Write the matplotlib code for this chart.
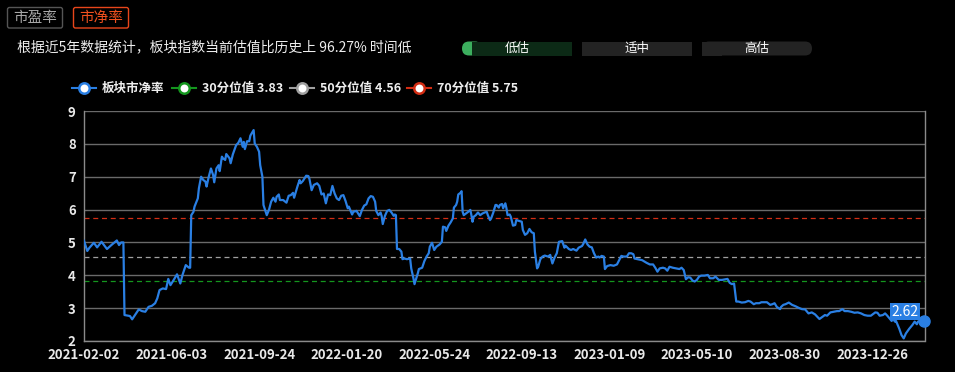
import numpy as np
import matplotlib
matplotlib.use('Agg')
import matplotlib.pyplot as plt
from matplotlib.patches import FancyBboxPatch, Rectangle
from matplotlib.lines import Line2D

plt.rcParams['font.family'] = ['Noto Sans CJK SC', 'DejaVu Sans']

# trading-day index of each reading, and the PB value
day_idx = [0, 3, 5, 9, 12, 16, 21, 25, 30, 32, 34, 36, 37, 42, 44, 47, 50, 53, 56, 59,
           62, 65, 67, 69, 72, 75, 77, 79, 82, 85, 88, 90, 93, 96, 97, 98, 100, 101, 104, 105,
           107, 109, 111, 112, 114, 116, 118, 119, 121, 123, 124, 126, 127, 129, 130, 133, 134, 136, 139, 141,
           143, 145, 146, 147, 149, 151, 152, 155, 156, 158, 160, 161, 163, 164, 165, 167, 169, 171, 173, 175,
           176, 178, 179, 182, 185, 187, 189, 191, 192, 194, 195, 197, 198, 200, 203, 205, 206, 208, 210, 213,
           215, 217, 219, 221, 223, 225, 227, 229, 231, 233, 235, 237, 239, 241, 242, 245, 246, 249, 252, 254,
           256, 258, 260, 262, 264, 266, 267, 269, 271, 272, 273, 275, 277, 279, 281, 283, 284, 285, 286, 288,
           290, 291, 293, 295, 298, 299, 301, 302, 305, 306, 309, 311, 313, 315, 316, 318, 320, 322, 325, 327,
           328, 330, 331, 333, 335, 337, 338, 340, 341, 342, 344, 345, 346, 347, 349, 351, 353, 354, 355, 356,
           358, 360, 362, 364, 366, 368, 369, 371, 372, 374, 376, 377, 379, 380, 382, 383, 385, 386, 387, 389,
           390, 392, 394, 395, 398, 400, 401, 403, 405, 407, 409, 411, 412, 414, 415, 417, 419, 421, 424, 426,
           428, 430, 432, 434, 437, 439, 440, 443, 445, 447, 450, 452, 455, 456, 458, 460, 462, 464, 466, 468,
           470, 471, 473, 475, 476, 478, 481, 484, 487, 489, 491, 493, 496, 498, 500, 502, 503, 506, 510, 514,
           517, 520, 522, 524, 526, 529, 531, 533, 535, 538, 541, 544, 546, 548, 550, 552, 554, 556, 558, 560,
           562, 564, 567, 570, 572, 575, 577, 580, 583, 586, 588, 590, 592, 594, 596, 598, 601, 604, 607, 609,
           612, 614, 617, 619, 622, 624, 627, 629, 631, 633, 636, 637, 639, 641, 644, 647, 650, 653, 656, 659,
           662, 665, 668, 670, 672, 675, 677, 679, 682, 685, 688, 690, 693, 695, 698, 701, 704, 707, 710, 713,
           716, 719, 723, 725, 727, 730, 732, 734, 736, 738, 739, 741, 742, 745, 747, 749, 751, 754, 757, 759,
           761, 762, 765, 768]
pb_values = [5.05, 4.74, 4.84, 4.99, 4.85, 5.02, 4.80, 4.92, 5.06, 4.92, 5.00, 5.00, 2.79, 2.76, 2.66, 2.81, 2.96, 2.91, 2.89, 3.04,
             3.07, 3.15, 3.30, 3.55, 3.60, 3.58, 3.89, 3.70, 3.86, 4.03, 3.75, 4.01, 4.31, 4.23, 4.23, 5.83, 5.93, 6.09, 6.34, 6.65,
             7.00, 6.90, 6.85, 6.70, 7.00, 7.25, 7.05, 6.83, 7.25, 7.35, 7.17, 7.61, 7.56, 7.51, 7.69, 7.56, 7.41, 7.68, 7.96, 8.03,
             8.17, 7.91, 8.06, 7.84, 8.08, 8.08, 8.25, 8.42, 8.01, 7.91, 7.76, 7.35, 7.00, 6.14, 6.04, 5.83, 5.99, 6.24, 6.36, 6.24,
             6.39, 6.46, 6.29, 6.29, 6.21, 6.42, 6.44, 6.51, 6.36, 6.59, 6.70, 6.90, 6.80, 6.87, 7.03, 7.02, 6.93, 6.59, 6.75, 6.80,
             6.72, 6.46, 6.49, 6.19, 6.46, 6.44, 6.72, 6.49, 6.34, 6.29, 6.42, 6.44, 6.26, 6.04, 6.09, 5.85, 5.93, 5.96, 5.80, 5.99,
             6.12, 6.16, 6.34, 6.41, 6.39, 6.24, 5.96, 5.83, 5.91, 5.80, 5.56, 5.81, 5.96, 5.99, 5.91, 5.81, 5.85, 5.83, 4.80, 4.80,
             4.72, 4.49, 4.51, 4.49, 4.51, 4.21, 3.91, 3.73, 4.06, 4.19, 4.23, 4.43, 4.57, 4.67, 4.87, 4.99, 4.77, 4.87, 4.94, 5.02,
             5.48, 5.46, 5.35, 5.51, 5.61, 5.73, 6.06, 6.14, 6.24, 6.46, 6.51, 6.56, 5.93, 5.83, 5.88, 5.93, 5.99, 5.83, 5.63, 5.78,
             5.83, 5.91, 5.83, 5.88, 5.91, 5.93, 5.83, 5.68, 5.73, 5.91, 6.14, 6.14, 6.06, 6.14, 6.17, 6.04, 6.19, 6.04, 5.83, 5.85,
             5.78, 5.51, 5.53, 5.68, 5.65, 5.63, 5.38, 5.23, 5.28, 5.41, 5.31, 5.28, 4.72, 4.21, 4.26, 4.49, 4.57, 4.60, 4.57, 4.62,
             4.36, 4.54, 4.67, 5.02, 5.04, 4.84, 4.90, 4.80, 4.77, 4.80, 4.75, 4.84, 4.89, 4.94, 5.09, 4.94, 4.87, 4.85, 4.67, 4.54,
             4.57, 4.54, 4.59, 4.57, 4.19, 4.28, 4.31, 4.29, 4.33, 4.46, 4.59, 4.57, 4.57, 4.67, 4.67, 4.64, 4.51, 4.49, 4.46, 4.38,
             4.33, 4.33, 4.23, 4.11, 4.21, 4.23, 4.21, 4.14, 4.26, 4.23, 4.21, 4.19, 4.23, 4.16, 3.88, 3.94, 3.93, 3.84, 3.81, 3.86,
             3.96, 3.99, 3.99, 4.01, 3.91, 3.91, 3.96, 3.86, 3.86, 3.88, 3.89, 3.77, 3.73, 3.75, 3.20, 3.20, 3.17, 3.18, 3.22, 3.20,
             3.12, 3.15, 3.15, 3.18, 3.18, 3.18, 3.10, 3.12, 3.15, 3.04, 2.97, 3.04, 3.10, 3.12, 3.17, 3.10, 3.06, 3.01, 2.97, 2.96,
             2.84, 2.87, 2.81, 2.74, 2.67, 2.74, 2.79, 2.77, 2.87, 2.89, 2.91, 2.91, 2.97, 2.91, 2.91, 2.89, 2.86, 2.87, 2.84, 2.79,
             2.77, 2.77, 2.87, 2.86, 2.77, 2.79, 2.84, 2.77, 2.69, 2.61, 2.69, 2.59, 2.61, 2.37, 2.18, 2.08, 2.23, 2.37, 2.49, 2.59,
             2.51, 2.59, 2.61, 2.62]

tick_idx = [0, 80, 160, 240, 320, 400, 480, 560, 640, 720]
tick_dates = ['2021-02-02', '2021-06-03', '2021-09-24', '2022-01-20', '2022-05-24',
              '2022-09-13', '2023-01-09', '2023-05-10', '2023-08-30', '2023-12-26']

pct_names = ['30分位值', '50分位值', '70分位值']
pct_values = [3.83, 4.56, 5.75]
pct_colors = ['#14961e', '#a0a0a0', '#d22d14']
line_color = '#2a7fe3'
series_name = '板块市净率'

fig = plt.figure(figsize=(9.55, 3.72), dpi=100, facecolor='black')
ax = fig.add_axes([84 / 955, 31 / 372, 840.5 / 955, 230 / 372])
ax.set_facecolor('black')

# reference percentile lines
for v, c in zip(pct_values, pct_colors):
    ax.axhline(v, color=c, lw=0.9, ls=(0, (4, 3)), zorder=2)

ax.plot(day_idx, pb_values, color=line_color, lw=1.6, zorder=3, solid_joinstyle='round')
ax.plot(day_idx[-1], pb_values[-1], 'o', color=line_color, ms=8, zorder=4, clip_on=False)
ax.annotate(f'{pb_values[-1]:.2f}', (day_idx[-1], pb_values[-1]), xytext=(-14, 6.5),
            textcoords='offset points', ha='center', va='center', color='white', fontsize=10,
            bbox=dict(boxstyle='square,pad=0.12', fc=line_color, ec='none'), zorder=5)

ax.set_xlim(0, day_idx[-1])
ax.set_ylim(2, 9)
ax.set_yticks(range(2, 10))
ax.set_xticks(tick_idx)
ax.set_xticklabels(tick_dates)
ax.grid(axis='y', color='#6a6a6a', lw=1)
ax.set_axisbelow(True)
for s in ['left', 'bottom', 'right']:
    ax.spines[s].set_color('#8a8a8a')
    ax.spines[s].set_linewidth(1)
ax.spines['top'].set_visible(False)
ax.tick_params(length=0, colors='#e8e8e8', labelsize=9.5, pad=6)
for lab in ax.get_xticklabels() + ax.get_yticklabels():
    lab.set_fontweight('bold')
ax.tick_params(axis='x', pad=5)

# overlay in pixel coordinates for header elements
ov = fig.add_axes([0, 0, 1, 1], zorder=10)
ov.set_xlim(0, 955)
ov.set_ylim(372, 0)
ov.axis('off')

# tab buttons
ov.add_patch(FancyBboxPatch((7.5, 7.5), 55, 20.5, boxstyle='round,pad=0,rounding_size=2',
                            fc='none', ec='#555555', lw=1))
ov.text(35, 18, '市盈率', color='#a8a8a8', fontsize=10.5, ha='center', va='center')
ov.add_patch(FancyBboxPatch((73.5, 7.5), 55, 20.5, boxstyle='round,pad=0,rounding_size=2',
                            fc='none', ec='#e8461a', lw=1))
ov.text(101, 18, '市净率', color='#f0501e', fontsize=10.5, ha='center', va='center')

ov.text(17, 47, '根据近5年数据统计，板块指数当前估值比历史上 96.27% 时间低',
        color='#eeeeee', fontsize=10, ha='left', va='center')

# valuation bar
ov.add_patch(FancyBboxPatch((462, 41.5), 20, 14, boxstyle='round,pad=0,rounding_size=7',
                            fc='#3cae5e', ec='none'))
ov.add_patch(Rectangle((472, 41.5), 100, 14, fc='#0c2a16', ec='none'))
ov.add_patch(Rectangle((582, 41.5), 110, 14, fc='#232323', ec='none'))
ov.add_patch(FancyBboxPatch((702, 41.5), 110, 14, boxstyle='round,pad=0,rounding_size=7',
                            fc='#232323', ec='none'))
ov.add_patch(Rectangle((702, 41.5), 20, 14, fc='#232323', ec='none'))
for cx, t in zip([517, 637, 757], ['低估', '适中', '高估']):
    ov.text(cx, 48.5, t, color='white', fontsize=9, ha='center', va='center')

# legend
leg_names = [series_name] + [f'{n} {v:.2f}' for n, v in zip(pct_names, pct_values)]
leg_colors = [line_color] + pct_colors
leg_x = [72, 172, 290, 407]
for x0, name, c in zip(leg_x, leg_names, leg_colors):
    ov.add_line(Line2D([x0, x0 + 24], [88, 88], color=c, lw=1.5))
    ov.plot(x0 + 12, 88, 'o', ms=7.5, mfc='white', mec=c, mew=1.8)
    ov.text(x0 + 30, 88.5, name, color='#eeeeee', fontsize=9, fontweight='bold',
            ha='left', va='center')

fig.savefig('out.png', dpi=100, facecolor='black')
